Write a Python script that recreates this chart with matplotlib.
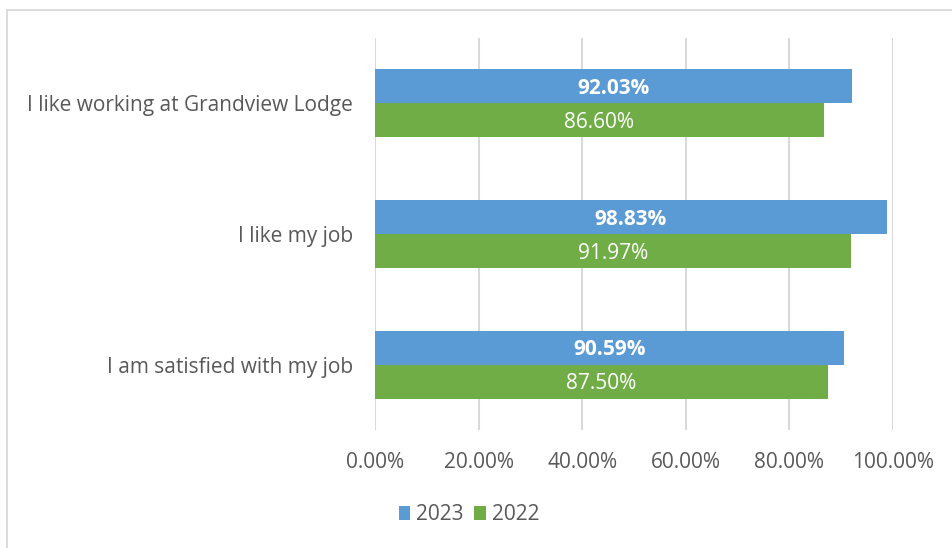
import matplotlib
matplotlib.use("Agg")
import matplotlib.pyplot as plt
from matplotlib.lines import Line2D
import numpy as np

plt.rcParams['font.family'] = ['Open Sans', 'DejaVu Sans']

categories = ["I am satisfied with my job", "I like my job", "I like working at Grandview Lodge"]
values_2023 = [90.59, 98.83, 92.03]
values_2022 = [87.50, 91.97, 86.60]
xticks = [0, 20, 40, 60, 80, 100]

blue = "#5B9BD5"
green = "#70AD47"
text_gray = "#595959"
grid_gray = "#D9D9D9"

W, H = 953, 548
fig = plt.figure(figsize=(W / 100, H / 100), dpi=100)

# chart frame: left and top edges
bx, by = 7 / W, 1 - 9.5 / H
fig.add_artist(Line2D([bx, bx], [0, by], transform=fig.transFigure, color=grid_gray, lw=1.3))
fig.add_artist(Line2D([bx, 1], [by, by], transform=fig.transFigure, color=grid_gray, lw=1.3))

left, right, top, bottom = 375, 893, 38, 430
ax = fig.add_axes([left / W, 1 - bottom / H, (right - left) / W, (bottom - top) / H])

y = np.arange(len(categories))
h = 0.26
ax.barh(y + h / 2, values_2023, height=h, color=blue, label="2023", zorder=3)
ax.barh(y - h / 2, values_2022, height=h, color=green, label="2022", zorder=3)

for yi, v in zip(y, values_2023):
    ax.annotate(f"{v:.2f}%", (v / 2, yi + h / 2), xytext=(0, -1.5), textcoords="offset points",
                ha="center", va="center", color="white",
                fontsize=15, fontweight="bold", zorder=4)
for yi, v in zip(y, values_2022):
    ax.annotate(f"{v:.2f}%", (v / 2, yi - h / 2), xytext=(0, -1.5), textcoords="offset points",
                ha="center", va="center", color="white", fontsize=15, zorder=4)

ax.set_xlim(0, 100)
ax.set_ylim(-0.5, len(categories) - 0.5)
ax.set_xticks(xticks)
ax.set_xticklabels([f"{t:.2f}%" for t in xticks], color=text_gray, fontsize=15)
ax.set_yticks(y)
ax.set_yticklabels(categories, color=text_gray, fontsize=15)
ax.tick_params(axis="both", length=0)
ax.tick_params(axis="x", pad=16)
ax.tick_params(axis="y", pad=16)
ax.xaxis.grid(True, color=grid_gray, linewidth=1.5, zorder=0)
for s in ax.spines.values():
    s.set_visible(False)

handles, labels = ax.get_legend_handles_labels()
fig.legend(handles, labels, loc="center", bbox_to_anchor=(469 / W, 1 - 515 / H), ncol=2,
           frameon=False, fontsize=15, handlelength=0.55, handleheight=0.65,
           handletextpad=0.3, columnspacing=0.5, labelcolor=text_gray)

fig.savefig("out.png", dpi=100)
